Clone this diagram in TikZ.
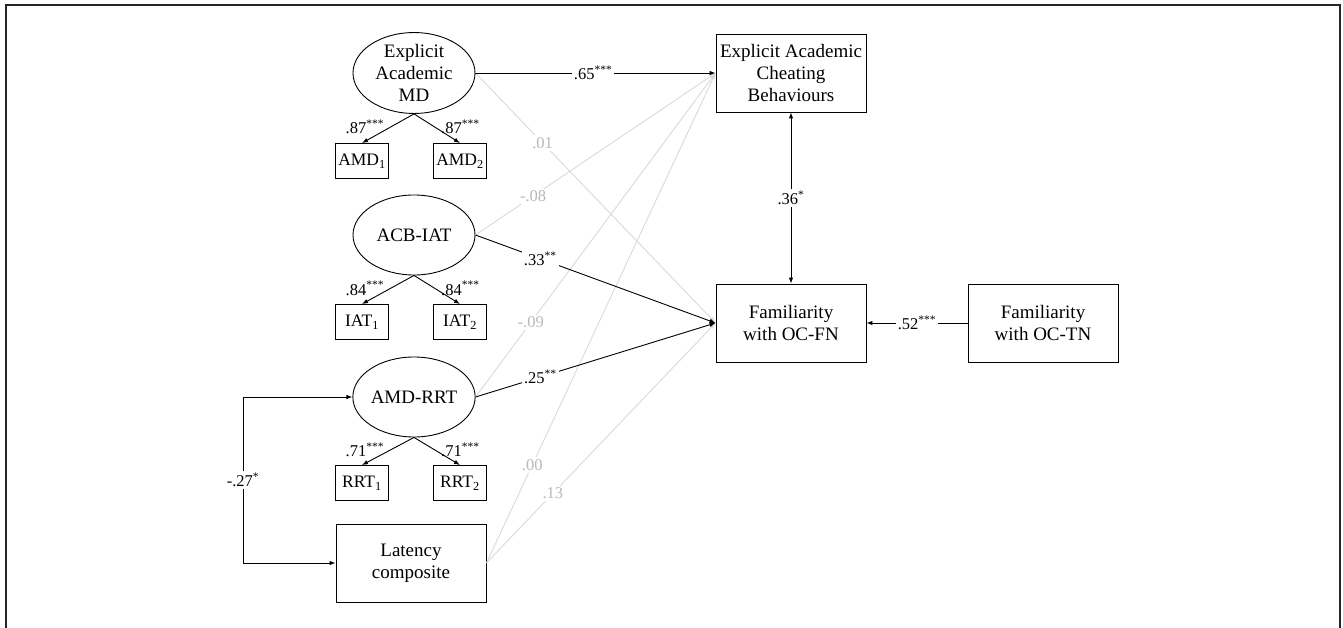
\documentclass[tikz,border=0pt]{standalone}
\usepackage{fontspec}
\setmainfont{Liberation Serif}
\usetikzlibrary{arrows.meta,shapes.geometric}
\newcommand{\nodefont}{\fontsize{19}{22}\selectfont}
\newcommand{\lblfont}{\fontsize{16.5}{18}\selectfont}
\newcommand{\st}[1]{\textsuperscript{#1}}
\newcommand{\drawPath}[5][sig]{
  \draw[#1] (#2) -- node[pos=#5, #1lbl] {#4} (#3);
}

\begin{document}
\begin{tikzpicture}[x=1pt, y=-1pt, >={Latex[length=6pt,width=4.5pt]},
  latent/.style={draw, ellipse, line width=0.9pt, minimum width=122pt, minimum height=80pt, inner sep=0pt, align=center, font=\nodefont},
  obs/.style={draw, rectangle, line width=0.9pt, minimum width=150pt, minimum height=78pt, inner sep=0pt, align=center, font=\nodefont},
  ind/.style={draw, rectangle, line width=0.9pt, minimum width=53pt, minimum height=35pt, inner sep=0pt, font=\fontsize{17.5}{20}\selectfont},
  sig/.style={->, draw=black, line width=0.9pt},
  ns/.style={->, draw=black!15, line width=0.9pt},
  siglbl/.style={fill=white, inner sep=2pt, text=black, font=\lblfont},
  nslbl/.style={fill=white, inner sep=2pt, text=black!28, font=\lblfont}]
  \useasboundingbox (0,0) rectangle (1343,628);
  % Frame
  \draw[line width=1.2pt, black!85] (6,628) -- (6,5) -- (1340,5) -- (1340,628);

  % Nodes
  \node[latent] (eamd) at (414,73) {Explicit\\Academic\\MD};
  \node[ind] (amd1) at (362,161) {AMD\textsubscript{1}};
  \node[ind] (amd2) at (460,161) {AMD\textsubscript{2}};
  \node[latent] (iat) at (414,235) {ACB-IAT};
  \node[ind] (iat1) at (362,322) {IAT\textsubscript{1}};
  \node[ind] (iat2) at (460,322) {IAT\textsubscript{2}};
  \node[latent] (rrt) at (414,397) {AMD-RRT};
  \node[ind] (rrt1) at (362,483) {RRT\textsubscript{1}};
  \node[ind] (rrt2) at (460,483) {RRT\textsubscript{2}};
  \node[obs] (lat) at (411,563) {Latency\\composite};
  \node[obs] (eacb) at (791,73) {Explicit Academic\\Cheating\\Behaviours};
  \node[obs] (ocfn) at (791,323) {Familiarity\\with OC-FN};
  \node[obs] (octn) at (1043,323) {Familiarity\\with OC-TN};
  \coordinate (brk) at (243,480);

  % Loadings
  \draw[sig] (eamd.south) -- node[siglbl, fill=none, pos=0.45, left=4pt] {.87\st{***}} (amd1.north);
  \draw[sig] (eamd.south) -- node[siglbl, fill=none, pos=0.45, right=4pt] {.87\st{***}} (amd2.north);
  \draw[sig] (iat.south) -- node[siglbl, fill=none, pos=0.45, left=4pt] {.84\st{***}} (iat1.north);
  \draw[sig] (iat.south) -- node[siglbl, fill=none, pos=0.45, right=4pt] {.84\st{***}} (iat2.north);
  \draw[sig] (rrt.south) -- node[siglbl, fill=none, pos=0.45, left=4pt] {.71\st{***}} (rrt1.north);
  \draw[sig] (rrt.south) -- node[siglbl, fill=none, pos=0.45, right=4pt] {.71\st{***}} (rrt2.north);

  % Paths
  \drawPath[ns]{eamd.east}{ocfn.west}{.01}{0.28}
  \drawPath[ns]{iat.east}{eacb.west}{-.08}{0.24}
  \drawPath[ns]{rrt.east}{eacb.west}{-.09}{0.23}
  \drawPath[ns]{lat.east}{eacb.west}{.00}{0.2}
  \drawPath[ns]{lat.east}{ocfn.west}{.13}{0.29}
  \drawPath{eamd.east}{eacb.west}{.65\st{***}}{0.49}
  \drawPath{iat.east}{ocfn.west}{.33\st{**}}{0.27}
  \drawPath{rrt.east}{ocfn.west}{.25\st{**}}{0.27}
  \drawPath{octn.west}{ocfn.east}{.52\st{***}}{0.5}
  \draw[sig, <->] (eacb) -- node[siglbl] {.36\st{*}} (ocfn);
  \draw[sig, <->] (rrt.west) -- (rrt.west -| brk) -- node[siglbl] {-.27\st{*}} (lat.west -| brk) -- (lat.west);
\end{tikzpicture}
\end{document}
